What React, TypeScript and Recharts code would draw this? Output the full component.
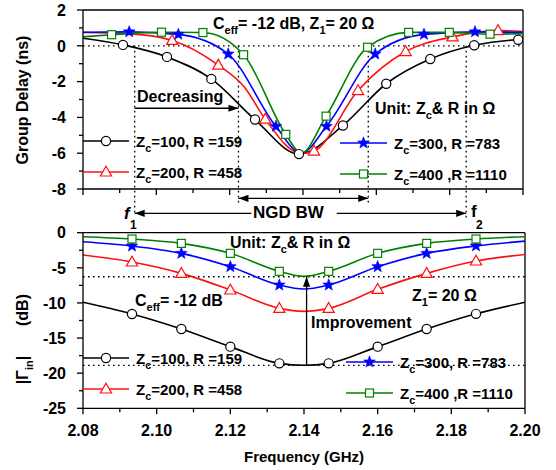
import { LineChart, Line, XAxis, YAxis, ReferenceLine } from "recharts";

// [frequency GHz, value, marker shown (1) or not (0)]
type Pt = [number, number, number];

const xTicks = [2.08, 2.09, 2.1, 2.11, 2.12, 2.13, 2.14, 2.15, 2.16, 2.17, 2.18, 2.19, 2.2];
const gdTicks = [-8, -7, -6, -5, -4, -3, -2, -1, 0, 1, 2];
const rlTicks = [-25, -22.5, -20, -17.5, -15, -12.5, -10, -7.5, -5, -2.5, 0];

// group delay (ns)
const gdBlack: Pt[] = [
  [2.08, 0.42, 0], [2.0909, 0.05, 1], [2.1029, -0.62, 1], [2.115, -1.85, 1],
  [2.1269, -4.12, 1], [2.1389, -6.05, 1], [2.1509, -4.45, 1], [2.1627, -2.12, 1],
  [2.1747, -0.74, 1], [2.1867, 0.03, 1], [2.1987, 0.34, 1], [2.2, 0.35, 0],
];
const gdRed: Pt[] = [
  [2.08, 0.74, 0], [2.092, 0.68, 0], [2.1043, 0.3, 1], [2.1169, -1.08, 1],
  [2.124, -2.3, 0], [2.1297, -4.1, 1], [2.1395, -6.02, 0], [2.143, -5.88, 1],
  [2.155, -2.5, 1], [2.168, -0.32, 1], [2.1808, 0.5, 1], [2.1932, 0.85, 1], [2.2, 0.8, 0],
];
const gdBlue: Pt[] = [
  [2.08, 0.76, 0], [2.0926, 0.78, 1], [2.106, 0.64, 1], [2.1196, -0.46, 1],
  [2.1326, -4.5, 1], [2.1395, -6.0, 0], [2.1464, -4.5, 1], [2.1597, -0.46, 1],
  [2.173, 0.64, 1], [2.1869, 0.78, 1], [2.2, 0.76, 0],
];
const gdGreen: Pt[] = [
  [2.08, 0.5, 0], [2.0878, 0.62, 1], [2.1014, 0.76, 1], [2.1127, 0.74, 1],
  [2.1238, -0.5, 1], [2.1353, -4.95, 1], [2.1395, -6.0, 0], [2.1463, -3.93, 1],
  [2.1576, -0.08, 1], [2.1688, 0.75, 1], [2.1799, 0.75, 1], [2.191, 0.65, 1], [2.2, 0.68, 0],
];

// |Gamma_in| (dB)
const rlBlack: Pt[] = [
  [2.08, -9.9, 0], [2.0933, -11.57, 1], [2.1067, -13.71, 1], [2.12, -16.22, 1],
  [2.1333, -18.6, 1], [2.14, -18.88, 0], [2.1467, -18.6, 1], [2.16, -16.22, 1],
  [2.1733, -13.71, 1], [2.1867, -11.55, 1], [2.2, -9.9, 0],
];
const rlRed: Pt[] = [
  [2.08, -3.18, 0], [2.0933, -4.17, 1], [2.1067, -5.79, 1], [2.12, -8.16, 1],
  [2.1333, -10.77, 1], [2.14, -11.2, 0], [2.1467, -10.77, 1], [2.16, -8.06, 1],
  [2.1733, -5.79, 1], [2.1867, -4.03, 1], [2.2, -3.1, 0],
];
const rlBlue: Pt[] = [
  [2.08, -1.28, 0], [2.0933, -1.9, 1], [2.1067, -2.94, 1], [2.12, -4.84, 1],
  [2.1333, -7.45, 1], [2.14, -8.02, 0], [2.1467, -7.45, 1], [2.16, -4.84, 1],
  [2.1733, -2.94, 1], [2.1867, -1.88, 1], [2.2, -1.2, 0],
];
const rlGreen: Pt[] = [
  [2.08, -0.57, 0], [2.0933, -0.9, 1], [2.1067, -1.52, 1], [2.12, -2.94, 1],
  [2.1333, -5.5, 1], [2.14, -6.2, 0], [2.1467, -5.5, 1], [2.16, -2.94, 1],
  [2.1733, -1.52, 1], [2.1867, -0.9, 1], [2.2, -0.57, 0],
];

// annotation positions (data units)
const f1 = 2.0941;
const f2 = 2.1845;
const ngdL = 2.1224;
const ngdR = 2.1578;
const gdRefs = [
  { x: f1, bottom: -9.5 },
  { x: ngdL, bottom: -8.8 },
  { x: ngdR, bottom: -8.8 },
  { x: f2, bottom: -9.7 },
];
const rlGreenMin = -6.27;
const rlBlackMin = -18.88;
const improveX = 2.1407;

const rows = (pts: Pt[]) => pts.map(([x, y, m]) => ({ x, y, m }));

const FONT = '"Liberation Sans", Arial, Helvetica, sans-serif';
const RED = "#ff1010";
const BLUE = "#0000ff";
const GREEN = "#008000";

type Kind = "circle" | "tri" | "star" | "square";

function Mark({ kind, cx, cy, color }: { kind: Kind; cx: number; cy: number; color: string }) {
  if (kind === "circle") {
    return <circle cx={cx} cy={cy} r={4.6} fill="#fff" stroke={color} strokeWidth={1.2} />;
  }
  if (kind === "tri") {
    const pts = `${cx},${cy - 5.8} ${cx + 5.6},${cy + 4} ${cx - 5.6},${cy + 4}`;
    return <polygon points={pts} fill="#fff" stroke={color} strokeWidth={1.2} />;
  }
  if (kind === "square") {
    return <rect x={cx - 4} y={cy - 4} width={8} height={8} fill="#fff" stroke={color} strokeWidth={1.2} />;
  }
  const p: string[] = [];
  for (let i = 0; i < 10; i++) {
    const r = i % 2 === 0 ? 6.2 : 2.6;
    const a = -Math.PI / 2 + (i * Math.PI) / 5;
    p.push(`${cx + r * Math.cos(a)},${cy + r * Math.sin(a)}`);
  }
  return <polygon points={p.join(" ")} fill={color} stroke={color} strokeWidth={0.6} />;
}

const dotFor = (kind: Kind, color: string) => (p: any) => {
  const key = `${kind}-${p.index}`;
  if (!p.payload || !p.payload.m || p.cx == null) return <g key={key} />;
  return <Mark key={key} kind={kind} cx={p.cx} cy={p.cy} color={color} />;
};

const xTick = (labels: boolean) => (p: any) => {
  const v = p.payload.value as number;
  const major = Math.round(v * 100) % 2 === 0;
  return (
    <g key={`xt-${p.index}`}>
      <line x1={p.x} x2={p.x} y1={p.y} y2={p.y + (major ? 6 : 4)} stroke="#000" strokeWidth={1.3} />
      {labels && major && (
        <text x={p.x} y={p.y + 28} textAnchor="middle" fontFamily={FONT} fontWeight={700} fontSize={16} fill="#000">
          {v.toFixed(2)}
        </text>
      )}
    </g>
  );
};

const yTick = (step: number) => (p: any) => {
  const v = p.payload.value as number;
  const major = Math.abs(v / step - Math.round(v / step)) < 1e-6;
  return (
    <g key={`yt-${p.index}`}>
      <line x1={p.x} x2={p.x - (major ? 6 : 4)} y1={p.y} y2={p.y} stroke="#000" strokeWidth={1.3} />
      {major && (
        <text x={p.x - 17} y={p.y} dy="0.36em" textAnchor="end" fontFamily={FONT} fontWeight={700} fontSize={16} fill="#000">
          {v}
        </text>
      )}
    </g>
  );
};

const arrow = (start: boolean, end: boolean) => (p: any) => {
  const { x1, y1, x2, y2 } = p;
  const a = Math.atan2(y2 - y1, x2 - x1);
  const head = (x: number, y: number, ang: number) => {
    const L = 10;
    const W = 3.6;
    const bx = x - L * Math.cos(ang);
    const by = y - L * Math.sin(ang);
    const px = -Math.sin(ang) * W;
    const py = Math.cos(ang) * W;
    return <polygon points={`${x},${y} ${bx + px},${by + py} ${bx - px},${by - py}`} fill="#000" />;
  };
  return (
    <g>
      <line x1={x1} y1={y1} x2={x2} y2={y2} stroke="#000" strokeWidth={1.3} />
      {start && head(x1, y1, a + Math.PI)}
      {end && head(x2, y2, a)}
    </g>
  );
};

const axisStyle = { stroke: "#000", strokeWidth: 1.3 };
const dotted = { stroke: "#000", strokeWidth: 1.3, strokeDasharray: "1.6 3.4" };

const series = [
  { kind: "circle" as Kind, color: "#000" },
  { kind: "tri" as Kind, color: RED },
  { kind: "star" as Kind, color: BLUE },
  { kind: "square" as Kind, color: GREEN },
];
const gdData = [gdBlack, gdRed, gdBlue, gdGreen];
const rlData = [rlBlack, rlRed, rlBlue, rlGreen];

const txt = { fontFamily: FONT, fontWeight: 700, fill: "#000" } as const;

function Zc({ x, y, rest, size = 15 }: { x: number; y: number; rest: string; size?: number }) {
  return (
    <text x={x} y={y} fontSize={size} {...txt}>
      Z<tspan dy={5} fontSize={size * 0.72}>c</tspan>
      <tspan dy={-5}>{rest}</tspan>
    </text>
  );
}

function LegendItem({ kind, color, x1, x2, y, rest }: { kind: Kind; color: string; x1: number; x2: number; y: number; rest: string }) {
  return (
    <g>
      <line x1={x1} x2={x2} y1={y} y2={y} stroke={color} strokeWidth={1.6} />
      <Mark kind={kind} cx={(x1 + x2) / 2} cy={y} color={color} />
      <Zc x={x2 + 7} y={y + 6} rest={rest} />
    </g>
  );
}

export default function App() {
  return (
    <div style={{ position: "absolute", left: 0, top: 0, width: 556, height: 470, background: "#fff" }}>
      <div style={{ position: "absolute", left: 0, top: 0 }}>
        <LineChart width={556} height={230} margin={{ top: 10, right: 33, bottom: 0, left: 43 }}>
          <XAxis
            type="number"
            dataKey="x"
            domain={[2.08, 2.2]}
            ticks={xTicks}
            interval={0}
            height={41}
            tickSize={0}
            tickMargin={0}
            tickLine={false}
            axisLine={axisStyle}
            tick={xTick(false)}
            allowDataOverflow
          />
          <YAxis
            type="number"
            dataKey="y"
            domain={[-8, 2]}
            ticks={gdTicks}
            interval={0}
            width={40}
            tickSize={0}
            tickMargin={0}
            tickLine={false}
            axisLine={axisStyle}
            tick={yTick(2)}
            allowDataOverflow
          />
          <ReferenceLine y={2} stroke="#000" strokeWidth={1.3} />
          <ReferenceLine x={2.2} stroke="#000" strokeWidth={1.3} />
          <ReferenceLine y={0} {...dotted} />
          {gdRefs.map((r) => (
            <ReferenceLine
              key={`v${r.x}`}
              segment={[{ x: r.x, y: 0 }, { x: r.x, y: r.bottom }]}
              ifOverflow="visible"
              {...dotted}
            />
          ))}
          <ReferenceLine segment={[{ x: f1, y: -3.49 }, { x: ngdL, y: -3.49 }]} ifOverflow="visible" shape={arrow(false, true)} />
          <ReferenceLine segment={[{ x: ngdL, y: -8.52 }, { x: ngdR, y: -8.52 }]} ifOverflow="visible" shape={arrow(true, true)} />
          <ReferenceLine segment={[{ x: f1, y: -9.36 }, { x: 2.1259, y: -9.36 }]} ifOverflow="visible" shape={arrow(true, false)} />
          <ReferenceLine segment={[{ x: 2.1492, y: -9.36 }, { x: f2, y: -9.36 }]} ifOverflow="visible" shape={arrow(false, true)} />
          {gdData.map((d, i) => (
            <Line
              key={`gd${i}`}
              data={rows(d)}
              dataKey="y"
              type="monotone"
              stroke={series[i].color}
              strokeWidth={1.6}
              dot={dotFor(series[i].kind, series[i].color)}
              activeDot={false}
              isAnimationActive={false}
            />
          ))}
        </LineChart>
      </div>

      <div style={{ position: "absolute", left: 0, top: 210 }}>
        <LineChart width={556} height={260} margin={{ top: 22.7, right: 31, bottom: 0, left: 43 }}>
          <XAxis
            type="number"
            dataKey="x"
            domain={[2.08, 2.2]}
            ticks={xTicks}
            interval={0}
            height={61.7}
            tickSize={0}
            tickMargin={0}
            tickLine={false}
            axisLine={axisStyle}
            tick={xTick(true)}
            allowDataOverflow
          />
          <YAxis
            type="number"
            dataKey="y"
            domain={[-25, 0]}
            ticks={rlTicks}
            interval={0}
            width={40}
            tickSize={0}
            tickMargin={0}
            tickLine={false}
            axisLine={axisStyle}
            tick={yTick(5)}
            allowDataOverflow
          />
          <ReferenceLine y={0} stroke="#000" strokeWidth={1.3} />
          <ReferenceLine x={2.2} stroke="#000" strokeWidth={1.3} />
          <ReferenceLine y={rlGreenMin} {...dotted} />
          <ReferenceLine y={rlBlackMin} {...dotted} />
          {rlData.map((d, i) => (
            <Line
              key={`rl${i}`}
              data={rows(d)}
              dataKey="y"
              type="monotone"
              stroke={series[i].color}
              strokeWidth={1.6}
              dot={dotFor(series[i].kind, series[i].color)}
              activeDot={false}
              isAnimationActive={false}
            />
          ))}
          <ReferenceLine
            segment={[{ x: improveX, y: rlBlackMin }, { x: improveX, y: rlGreenMin }]}
            ifOverflow="visible"
            shape={arrow(false, true)}
          />
        </LineChart>
      </div>

      <svg width={556} height={470} style={{ position: "absolute", left: 0, top: 0, pointerEvents: "none" }}>
        {/* axis titles */}
        <text transform="translate(28,100) rotate(-90)" textAnchor="middle" fontSize={16} {...txt}>
          Group Delay (ns)
        </text>
        <text transform="translate(28,310) rotate(-90)" textAnchor="middle" fontSize={16} {...txt}>
          (dB)
        </text>
        <text transform="translate(28,370) rotate(-90)" textAnchor="middle" fontSize={16} {...txt}>
          |Γ<tspan dy={5} fontSize={11}>in</tspan>
          <tspan dy={-5}>|</tspan>
        </text>
        <text x={304} y={462} textAnchor="middle" fontSize={15} {...txt}>
          Frequency (GHz)
        </text>

        {/* top panel annotations */}
        <text x={213} y={29} fontSize={16} {...txt}>
          C<tspan dy={5} fontSize={11}>eff</tspan>
          <tspan dy={-5}>= -12 dB, Z</tspan>
          <tspan dy={5} fontSize={11}>1</tspan>
          <tspan dy={-5}>= 20 Ω</tspan>
        </text>
        <text x={137} y={102} fontSize={16} {...txt}>
          Decreasing
        </text>
        <text x={375} y={114} fontSize={16} {...txt}>
          Unit: Z<tspan dy={5} fontSize={11}>c</tspan>
          <tspan dy={-5}>&amp; R in Ω</tspan>
        </text>
        <LegendItem kind="circle" color="#000" x1={83} x2={129} y={141} rest="=100, R =159" />
        <LegendItem kind="tri" color={RED} x1={83} x2={129} y={172} rest="=200, R =458" />
        <LegendItem kind="star" color={BLUE} x1={340} x2={387} y={143} rest="=300, R =783" />
        <LegendItem kind="square" color={GREEN} x1={340} x2={387} y={174} rest="=400 ,R =1110" />

        <text x={124} y={219} fontSize={17} fontStyle="italic" {...txt}>
          f
        </text>
        <text x={130} y={229} fontSize={12} {...txt}>
          1
        </text>
        <text x={253} y={218} fontSize={17} {...txt}>
          NGD BW
        </text>
        <text x={471} y={217} fontSize={17} {...txt}>
          f
        </text>
        <text x={476} y={229} fontSize={12} {...txt}>
          2
        </text>

        {/* bottom panel annotations */}
        <text x={230} y={248} fontSize={16} {...txt}>
          Unit: Z<tspan dy={5} fontSize={11}>c</tspan>
          <tspan dy={-5}>&amp; R in Ω</tspan>
        </text>
        <text x={135} y={306} fontSize={16} {...txt}>
          C<tspan dy={5} fontSize={11}>eff</tspan>
          <tspan dy={-5}>= -12 dB</tspan>
        </text>
        <text x={412} y={301} fontSize={16} {...txt}>
          Z<tspan dy={5} fontSize={11}>1</tspan>
          <tspan dy={-5}>= 20 Ω</tspan>
        </text>
        <text x={311} y={328} fontSize={16} {...txt}>
          Improvement
        </text>
        <LegendItem kind="circle" color="#000" x1={83} x2={129} y={358} rest="=100, R =159" />
        <LegendItem kind="tri" color={RED} x1={83} x2={129} y={389} rest="=200, R =458" />
        <LegendItem kind="star" color={BLUE} x1={346} x2={393} y={362} rest="=300, R =783" />
        <LegendItem kind="square" color={GREEN} x1={346} x2={393} y={393} rest="=400 ,R =1110" />
      </svg>
    </div>
  );
}
